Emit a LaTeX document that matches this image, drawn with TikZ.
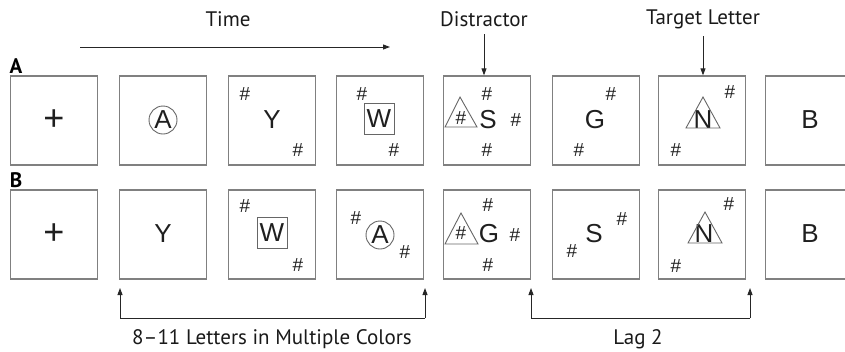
\documentclass[tikz,border=0pt]{standalone}
\usepackage{fontspec}
\setmainfont{Liberation Sans}
\newfontfamily\capfont{PT Sans}
\usetikzlibrary{arrows.meta}

\tikzset{
  frame/.style={draw=black!50, line width=1.3pt, minimum width=87pt, minimum height=89pt},
  letter/.style={text=black!88, font=\fontsize{26}{26}\selectfont, inner sep=0pt},
  cross/.style={letter, font=\fontsize{36}{36}\selectfont},
  hash/.style={text=black!88, font=\fontsize{19}{19}\selectfont, inner sep=0pt},
  ring/.style={letter, circle, draw=black!60, line width=0.9pt, minimum size=28pt},
  sqbox/.style={letter, rectangle, draw=black!60, line width=0.9pt, minimum width=30pt, minimum height=31pt},
  tri/.style={draw=black!60, line width=0.9pt},
  caption/.style={text=black!90, font=\capfont\fontsize{21}{21}\selectfont},
  panel/.style={text=black, font=\capfont\bfseries\fontsize{21}{21}\selectfont},
  arr/.style={-{Triangle[length=7pt,width=5pt]}, line width=0.9pt, black!85}
}

\begin{document}
\begin{tikzpicture}[x=1pt, y=-1pt]
\useasboundingbox (0,0) rectangle (845,351);
\foreach \n/\x in {1/54, 2/163, 3/272, 4/380, 5/487, 6/596, 7/702, 8/809} {
  \node[frame] (a\n) at (\x,120.5) {};
  \node[frame] (b\n) at (\x,234.5) {};
}
\node[panel] (pa) at (16,66) {A};
\node[panel] (pb) at (16,180) {B};
\node[caption] (time) at (228,19) {Time};
\node[caption] (dis) at (484,19) {Distractor};
\node[caption] (tgt) at (703,19) {Target Letter};
\node[caption] (many) at (272,339) {8–11 Letters in Multiple Colors};
\node[caption] (lag) at (638,339) {Lag 2};
\node[cross] (a1l) at (a1) {+};
\node[ring] (a2l) at (163,120) {A};
\node[letter] (a3l) at (272,120) {Y};
\node[sqbox] (a4l) at (379,119) {W};
\node[letter] (a5l) at (488,120) {S};
\node[letter] (a6l) at (595,120) {G};
\node[letter] (a7l) at (703,120) {N};
\node[letter] (a8l) at (810,120) {B};
\node[cross] (b1l) at (b1) {+};
\node[letter] (b2l) at (163,234) {Y};
\node[sqbox] (b3l) at (272,233) {W};
\node[ring] (b4l) at (380,235) {A};
\node[letter] (b5l) at (489,234) {G};
\node[letter] (b6l) at (594,234) {S};
\node[letter] (b7l) at (704,234) {N};
\node[letter] (b8l) at (810,234) {B};
\foreach \x/\y [count=\i] in {245/94, 298/150, 362/94, 394/150, 487/94, 461/118, 516/120, 487/150, 611/94, 579/150, 730/92, 676/150}
  \node[hash] (ha\i) at (\x,\y) {\#};
\foreach \x/\y [count=\i] in {245/206, 298/265, 356/218, 405/252, 488/205, 461/233, 515/235, 488/265, 622/219, 572/251, 729/204, 676/266}
  \node[hash] (hb\i) at (\x,\y) {\#};
\draw[tri] (445,127) -- (460,97) -- (477,127) -- cycle;
\draw[tri] (686,128) -- (703,97) -- (720,128) -- cycle;
\draw[tri] (445,244) -- (461,213) -- (478,244) -- cycle;
\draw[tri] (688,243) -- (705,212) -- (722,243) -- cycle;
\coordinate (t0) at (80,47);
\coordinate (t1) at (390,47);
\draw[arr] (t0) -- (t1);
\draw[arr] (dis.south) ++(0,4) -- (dis |- a5.north);
\draw[arr] (tgt.south) ++(0,4) -- (tgt |- a7.north);
\coordinate (m0) at (120,318);
\coordinate (m1) at (425,318);
\coordinate (l0) at (531,318);
\coordinate (l1) at (750,318);
\draw[arr] (m0) -- (120,288);
\draw[arr] (m1) -- (425,288);
\draw[line width=0.9pt, black!85] (m0) -- (m1);
\draw[arr] (l0) -- (531,288);
\draw[arr] (l1) -- (750,288);
\draw[line width=0.9pt, black!85] (l0) -- (l1);
\end{tikzpicture}
\end{document}
